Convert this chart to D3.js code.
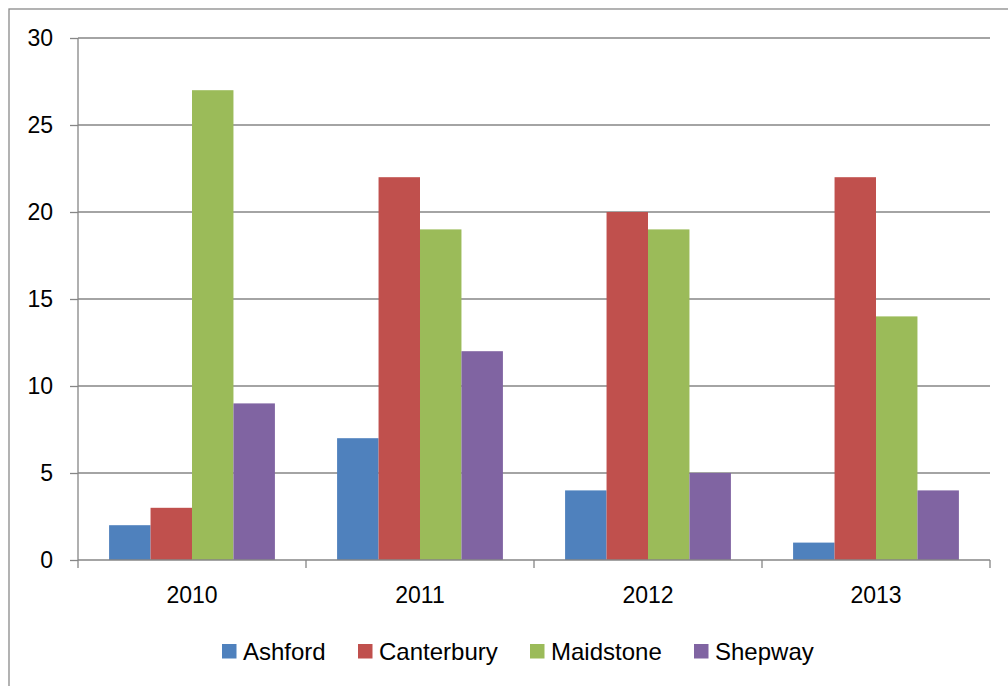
<!DOCTYPE html>
<html>
<head>
<meta charset="utf-8">
<script src="https://cdn.jsdelivr.net/npm/d3@7"></script>
<style>
	body { margin: 0; background: #fff; }
	svg { display: block; font-family: "Liberation Sans", Arial, sans-serif; }
</style>
</head>
<body>
<script>
//the data
var years = ["2010", "2011", "2012", "2013"];
var towns = ["Ashford", "Canterbury", "Maidstone", "Shepway"];
var ashford = [2, 7, 4, 1],
	canterbury = [3, 22, 20, 22],
	maidstone = [27, 19, 19, 14],
	shepway = [9, 12, 5, 4];
var yTicks = [0, 5, 10, 15, 20, 25, 30];
var colors = ["#4F81BD", "#C0504D", "#9BBB59", "#8064A2"];

var values = [ashford, canterbury, maidstone, shepway];

var width = 1008, height = 686;
var plotLeft = 78, plotRight = 990, plotTop = 38, plotBottom = 560;

var svg = d3.select("body").append("svg")
	.attr("width", width)
	.attr("height", height);

//outer frame (right and bottom sides run off the page)
svg.append("rect")
	.attr("x", 9)
	.attr("y", 9)
	.attr("width", width)
	.attr("height", height)
	.style("fill", "none")
	.style("stroke", "#8a8a8a")
	.style("stroke-width", 1.3);

var x0 = d3.scaleBand().domain(years).range([plotLeft, plotRight]).padding(0);
var x1 = d3.scaleBand().domain(towns).range([0, x0.bandwidth()])
	.paddingInner(0).paddingOuter(0.75);
var y = d3.scaleLinear().domain([0, 30]).range([plotBottom, plotTop]);

//gridlines
svg.append("g").selectAll("line")
	.data(yTicks.filter(function(d) { return d > 0; })).enter()
		.append("line")
		.attr("x1", plotLeft)
		.attr("x2", plotRight)
		.attr("y1", function(d) { return y(d); })
		.attr("y2", function(d) { return y(d); })
		.style("stroke", "#868686")
		.style("stroke-width", 1.3);

//bars
var groups = svg.append("g").selectAll("g")
	.data(years).enter()
		.append("g")
		.attr("transform", function(d) { return "translate(" + x0(d) + ",0)"; });

groups.selectAll("rect")
	.data(function(d, i) {
		return towns.map(function(t, j) { return {town: t, value: values[j][i], color: colors[j]}; });
	}).enter()
		.append("rect")
		.attr("x", function(d) { return x1(d.town); })
		.attr("width", x1.bandwidth())
		.attr("y", function(d) { return y(d.value); })
		.attr("height", function(d) { return y(0) - y(d.value); })
		.style("fill", function(d) { return d.color; });

//left axis
var yAxis = d3.axisLeft(y).tickValues(yTicks).tickSize(8).tickPadding(17);
var gY = svg.append("g")
	.attr("transform", "translate(" + plotLeft + ",0)")
	.call(yAxis);
gY.select(".domain").remove();
gY.selectAll(".tick line").style("stroke", "#868686").style("stroke-width", 1.3);
gY.selectAll("text").style("font-size", "23px").style("fill", "#000")
	.attr("font-family", null);
svg.append("line")
	.attr("x1", plotLeft).attr("x2", plotLeft)
	.attr("y1", plotTop).attr("y2", plotBottom + 8)
	.style("stroke", "#868686").style("stroke-width", 1.3);

//bottom axis
svg.append("line")
	.attr("x1", plotLeft).attr("x2", plotRight)
	.attr("y1", plotBottom).attr("y2", plotBottom)
	.style("stroke", "#868686").style("stroke-width", 1.3);
svg.append("g").selectAll("line")
	.data(years.slice(1).concat(["end"])).enter()
		.append("line")
		.attr("x1", function(d) { return d == "end" ? plotRight : x0(d); })
		.attr("x2", function(d) { return d == "end" ? plotRight : x0(d); })
		.attr("y1", plotBottom)
		.attr("y2", plotBottom + 8)
		.style("stroke", "#868686").style("stroke-width", 1.3);
svg.append("g").selectAll("text")
	.data(years).enter()
		.append("text")
		.attr("x", function(d) { return x0(d) + x0.bandwidth() / 2; })
		.attr("y", 603)
		.style("text-anchor", "middle")
		.style("font-size", "23px")
		.text(function(d) { return d; });

//legend
var legendX = [222, 358, 530, 694];
var legend = svg.append("g").selectAll("g")
	.data(towns).enter()
		.append("g")
		.attr("transform", function(d, i) { return "translate(" + legendX[i] + ",644)"; });
legend.append("rect")
	.attr("width", 14.5)
	.attr("height", 14.5)
	.style("fill", function(d, i) { return colors[i]; });
legend.append("text")
	.attr("x", 21)
	.attr("y", 16)
	.style("font-size", "24px")
	.text(function(d) { return d; });
</script>
</body>
</html>
